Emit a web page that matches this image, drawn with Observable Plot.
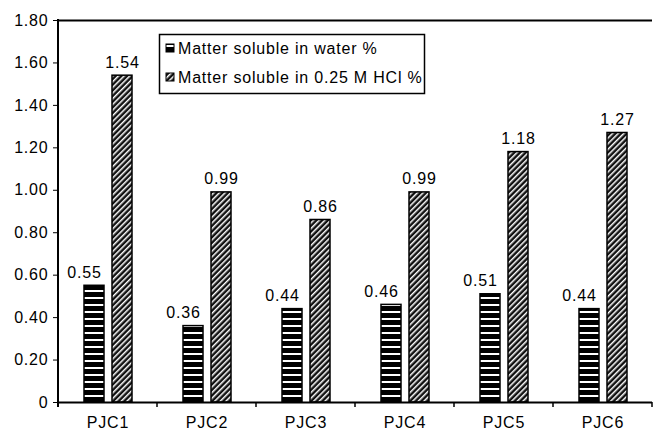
<!DOCTYPE html>
<html><head><meta charset="utf-8">
<script src="https://cdn.jsdelivr.net/npm/d3@7"></script>
<script src="https://cdn.jsdelivr.net/npm/@observablehq/plot@0.6"></script>
<style>
body{margin:0;background:#fff;}
#chart svg{display:block;background:linear-gradient(#9a9a9a 0 2px, #fff 2px);}
</style></head><body><div id="chart"></div>
<script>
const categories = ["PJC1","PJC2","PJC3","PJC4","PJC5","PJC6"];
const waterValues = [0.55,0.36,0.44,0.46,0.51,0.44];
const hclValues = [1.54,0.99,0.86,0.99,1.18,1.27];
const seriesKeys = ["water","hcl"];
const seriesNames = ["Matter soluble in water %","Matter soluble in 0.25 M HCl %"];
const yTicks = [0,0.2,0.4,0.6,0.8,1.0,1.2,1.4,1.6,1.8];

const waterData = categories.map((c,i)=>({cat:c, key:"water", value:waterValues[i]}));
const hclData = categories.map((c,i)=>({cat:c, key:"hcl", value:hclValues[i]}));
const fmt = d => d.toFixed(2);

const plot = Plot.plot({
  width:653, height:435, marginTop:20, marginBottom:33, marginLeft:57, marginRight:0,
  style:{fontFamily:"'Liberation Sans', Arial, sans-serif", fontSize:"16px", color:"#000", background:"transparent", letterSpacing:"0.8px"},
  fx:{domain:categories, padding:0, label:null, tickSize:0, tickPadding:14, axis:"bottom"},
  x:{domain:seriesKeys, axis:null, paddingInner:0.29, paddingOuter:0.9},
  y:{domain:[0,1.8], ticks:yTicks, tickFormat:d => d===0 ? "0" : d.toFixed(2), label:null, tickSize:5, tickPadding:5},
  marks:[
    Plot.barY(waterData,{fx:"cat", x:"key", y:"value", fill:"url(#pWater)", stroke:"#000", strokeWidth:1.5}),
    Plot.barY(hclData,{fx:"cat", x:"key", y:"value", fill:"url(#pHcl)", stroke:"#000", strokeWidth:1.5}),
    Plot.text(waterData,{fx:"cat", x:"key", y:"value", text:d=>fmt(d.value), lineAnchor:"bottom", dy:-8, dx:-10}),
    Plot.text(hclData,{fx:"cat", x:"key", y:"value", text:d=>fmt(d.value), lineAnchor:"bottom", dy:-8}),
    Plot.ruleY([0],{stroke:"#000", strokeWidth:2}),
    Plot.ruleY([1.8],{stroke:"#000", strokeWidth:2})
  ]
});

const svg = d3.select(plot);
const defs = svg.insert("defs", ":first-child");
const pw = defs.append("pattern").attr("id","pWater").attr("patternUnits","userSpaceOnUse").attr("width",8).attr("height",7);
pw.append("rect").attr("width",8).attr("height",7).attr("fill","#000");
pw.append("rect").attr("y",3).attr("width",8).attr("height",2).attr("fill","#fff");
const ph = defs.append("pattern").attr("id","pHcl").attr("patternUnits","userSpaceOnUse").attr("width",4).attr("height",4).attr("patternTransform","rotate(45)");
ph.append("rect").attr("width",4).attr("height",4).attr("fill","#111");
ph.append("rect").attr("width",1.5).attr("height",4).attr("fill","#fff");

const fx = plot.scale("fx"), y = plot.scale("y");
const y0 = y.apply(0), y1 = y.apply(1.8);
const left = fx.apply(categories[0]);
const g = svg.append("g");
g.append("line").attr("x1",left).attr("x2",left).attr("y1",y1-1).attr("y2",y0+5).attr("stroke","#000").attr("stroke-width",2);
const bounds = categories.map(c => fx.apply(c)).concat([fx.apply(categories[categories.length-1]) + fx.bandwidth]);
bounds.slice(1).forEach(b => {
  g.append("line").attr("x1",b).attr("x2",b).attr("y1",y0).attr("y2",y0+5).attr("stroke","#000").attr("stroke-width",1.5);
});

// legend
const lg = svg.append("g").attr("text-anchor","start");
lg.append("rect").attr("x",159.5).attr("y",34.5).attr("width",265).attr("height",59).attr("fill","#fff").attr("stroke","#000").attr("stroke-width",1.5);
const fills = ["url(#pWater)","url(#pHcl)"];
seriesNames.forEach((name,i) => {
  const cy = 48 + i*29;
  lg.append("rect").attr("x",166).attr("y",cy-4).attr("width",8).attr("height",8).attr("fill",fills[i]).attr("stroke","#000").attr("stroke-width",1);
  lg.append("text").attr("x",178).attr("y",cy).attr("dy","0.35em").attr("text-anchor","start").text(name);
});

document.getElementById("chart").appendChild(plot);
</script></body></html>
